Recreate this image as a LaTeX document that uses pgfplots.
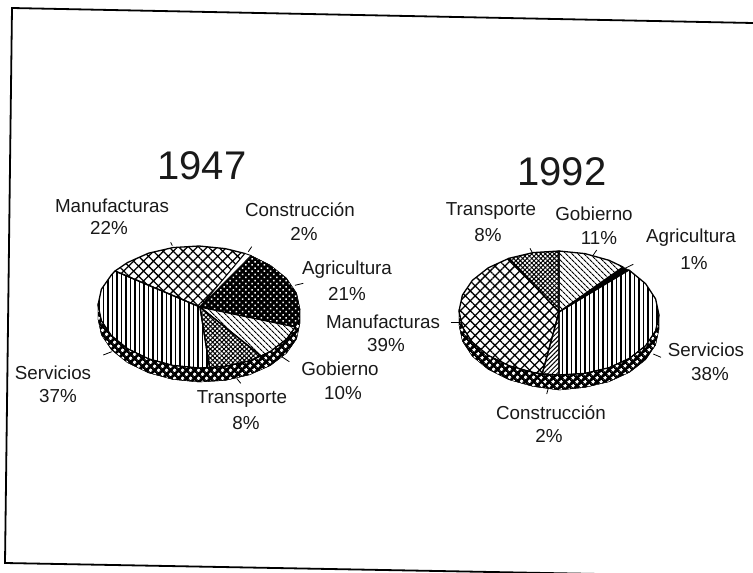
\documentclass[border=0pt]{standalone}
\usepackage{fontspec}
\setmainfont{Liberation Sans}
\usepackage{pgfplots}
\pgfplotsset{compat=1.18}
\usetikzlibrary{patterns.meta}
\tikzset{
 lab/.style={font=\fontsize{18.8}{22}\selectfont,inner sep=0pt,text=black!90},
 ttl/.style={font=\fontsize{40}{44}\selectfont,inner sep=0pt,text=black!90},
 sl/.style={draw=black,line width=1.3pt,line join=round},
 pMan/.style={pattern={Hatch[angle=45,distance=7pt,line width=1.3pt]},pattern color=black},
 pSer/.style={pattern={Lines[angle=90,distance=4.5pt,line width=1.7pt]},pattern color=black},
 pTra/.style={pattern={Hatch[angle=45,distance=3.2pt,line width=1pt]},pattern color=black},
 pGob/.style={pattern={Lines[angle=-45,distance=4pt,line width=1.2pt]},pattern color=black},
 pCon/.style={pattern={Lines[angle=45,distance=3.2pt,line width=1pt]},pattern color=black},
 pAgr/.style={pattern={Dots[angle=45,distance=4.4pt,radius=1.05pt]},pattern color=white},
 pRim/.style={pattern={Dots[angle=45,distance=5.4pt,radius=1.7pt]},pattern color=white},
 tk/.style={draw=black,line width=.8pt},
 fr/.style={draw=black,line width=1.8pt},
}
\begin{document}
\begin{tikzpicture}
\useasboundingbox (0,0) rectangle (753pt,573pt);
\begin{axis}[
  scale only axis,width=753pt,height=573pt,
  xmin=0,xmax=753,ymin=0,ymax=573,y dir=reverse,
  hide axis,no markers]
% frame
\addplot[fr] coordinates {(753,23) (12,8) (5,563) (600,574)};
% ---------- 1947 ----------
% rim
\addplot[draw=black,fill=black] coordinates {(300,309) (296.6,324.8) (286.5,339.2) (270.4,351.5) (249.5,360.8) (225.2,366.4) (199,368) (172.8,365.4) (148.5,358.8) (127.6,348.7) (111.5,335.8) (101.4,320.8) (98,305) (98,319) (101.4,334.8) (111.5,349.8) (127.6,362.7) (148.5,372.8) (172.8,379.4) (199,382) (225.2,380.4) (249.5,374.8) (270.4,365.5) (286.5,353.2) (296.6,338.8) (300,323) (300,309)};
\addplot[pRim] coordinates {(300,309) (296.6,324.8) (286.5,339.2) (270.4,351.5) (249.5,360.8) (225.2,366.4) (199,368) (172.8,365.4) (148.5,358.8) (127.6,348.7) (111.5,335.8) (101.4,320.8) (98,305) (98,319) (101.4,334.8) (111.5,349.8) (127.6,362.7) (148.5,372.8) (172.8,379.4) (199,382) (225.2,380.4) (249.5,374.8) (270.4,365.5) (286.5,353.2) (296.6,338.8) (300,323) (300,309)};
% Agricultura 21
\addplot[fill=black,draw=black] coordinates {(200,307) (251,255.5) (270.4,265.3) (286.5,278.2) (296.6,293.2) (300,309) (295.5,327) (200,307)};
\addplot[pAgr] coordinates {(200,307) (251,255.5) (270.4,265.3) (286.5,278.2) (296.6,293.2) (300,309) (295.5,327) (200,307)};
% Gobierno 10
\addplot[sl,pGob] coordinates {(200,307) (295.5,327) (286.5,339.2) (270.4,351.5) (261,356) (200,307)};
% Transporte 8
\addplot[sl,pTra] coordinates {(200,307) (261,356) (249.5,360.8) (225.2,366.4) (209.6,367.7) (200,307)};
% Servicios 37
\addplot[sl,pSer] coordinates {(200,307) (209.6,367.7) (199,368) (172.8,365.4) (148.5,358.8) (127.6,348.7) (111.5,335.8) (101.4,320.8) (98,305) (101.4,289.2) (111.5,274.8) (115,271) (200,307)};
% Manufacturas 22
\addplot[sl,pMan] coordinates {(200,307) (115,271) (127.6,262.5) (148.5,253.2) (172.8,247.6) (199,246) (225.2,248.6) (245,253.5) (200,307)};
% Construccion 2
\addplot[sl,line width=.8pt,fill=white] coordinates {(200,307) (245,253.5) (251,255.5) (200,307)};
% leader ticks
\addplot[tk] coordinates {(170.7,242.3) (172.3,245.7)};
\addplot[tk] coordinates {(248.3,251.7) (251.7,246.7)};
\addplot[tk] coordinates {(295,285.3) (303.3,283.3)};
\addplot[tk] coordinates {(281.7,356.7) (289.3,361.7)};
\addplot[tk] coordinates {(236.7,378.3) (240.7,383.3)};
\addplot[tk] coordinates {(103.3,355) (111.7,351.7)};
% ---------- 1992 ----------
\addplot[draw=black,fill=black] coordinates {(659,315) (655.6,330.9) (645.6,345.7) (629.7,358.2) (609,367.7) (584.9,373.4) (559,375) (533.1,372.4) (509,365.7) (488.3,355.4) (472.4,342.3) (462.4,327.1) (459,311) (459,325) (462.4,341.1) (472.4,356.3) (488.3,369.4) (509,379.7) (533.1,386.4) (559,390) (584.9,387.4) (609,381.7) (629.7,372.2) (645.6,359.7) (655.6,344.9) (659,329) (659,315)};
\addplot[pRim] coordinates {(659,315) (655.6,330.9) (645.6,345.7) (629.7,358.2) (609,367.7) (584.9,373.4) (559,375) (533.1,372.4) (509,365.7) (488.3,355.4) (472.4,342.3) (462.4,327.1) (459,311) (459,325) (462.4,341.1) (472.4,356.3) (488.3,369.4) (509,379.7) (533.1,386.4) (559,390) (584.9,387.4) (609,381.7) (629.7,372.2) (645.6,359.7) (655.6,344.9) (659,329) (659,315)};
% Gobierno 11
\addplot[sl,pGob] coordinates {(559,312) (559,251) (584.9,253.6) (609,260.3) (623,267) (559,312)};
% Agricultura 1
\addplot[fill=black,draw=black] coordinates {(559,312) (623,267) (629,270) (559,312)};
% Servicios 38
\addplot[sl,pSer] coordinates {(559,312) (629,270) (645.6,283.7) (655.6,298.9) (659,315) (655.6,330.9) (645.6,345.7) (629.7,358.2) (609,367.7) (584.9,373.4) (559,375) (559,312)};
% Construccion 2
\addplot[sl,pCon] coordinates {(559,312) (559,375) (542,374.5) (559,312)};
% Manufacturas 39
\addplot[sl,pMan] coordinates {(559,312) (542,374.5) (533.1,372.4) (509,365.7) (488.3,355.4) (472.4,342.3) (462.4,327.1) (459,311) (462.4,295.1) (472.4,280.3) (488.3,267.8) (509,258.3) (559,312)};
% Transporte 8
\addplot[sl,pTra] coordinates {(559,312) (509,258.3) (533.1,252.6) (559,251) (559,312)};
% leader ticks
\addplot[tk] coordinates {(530,248.3) (532.7,253.3)};
\addplot[tk] coordinates {(596.7,250) (593.3,255)};
\addplot[tk] coordinates {(625,268.3) (633.3,264.3)};
\addplot[tk] coordinates {(450.7,322.7) (460,322.7)};
\addplot[tk] coordinates {(653.3,354) (661,357.3)};
\addplot[tk] coordinates {(548.3,388.3) (546.7,394)};
% ---------- text ----------
\node[ttl] at (axis cs:202,166) {1947};
\node[lab] at (axis cs:112,206) {Manufacturas};
\node[lab] at (axis cs:109,228) {22\%};
\node[lab] at (axis cs:300,210) {Construcción};
\node[lab] at (axis cs:304,234) {2\%};
\node[lab] at (axis cs:347,270) {Agricultura};
\node[lab] at (axis cs:347,294) {21\%};
\node[lab] at (axis cs:340,369) {Gobierno};
\node[lab] at (axis cs:343,393) {10\%};
\node[lab] at (axis cs:242,399) {Transporte};
\node[lab] at (axis cs:246,423) {8\%};
\node[lab] at (axis cs:53,373) {Servicios};
\node[lab] at (axis cs:58,396) {37\%};
\node[ttl] at (axis cs:562,172) {1992};
\node[lab] at (axis cs:491,211) {Transporte};
\node[lab] at (axis cs:488,235) {8\%};
\node[lab] at (axis cs:594,214) {Gobierno};
\node[lab] at (axis cs:599,238) {11\%};
\node[lab] at (axis cs:691,238) {Agricultura};
\node[lab] at (axis cs:694,263) {1\%};
\node[lab] at (axis cs:383,322) {Manufacturas};
\node[lab] at (axis cs:386,345) {39\%};
\node[lab] at (axis cs:706,350) {Servicios};
\node[lab] at (axis cs:710,374) {38\%};
\node[lab] at (axis cs:551,413) {Construcción};
\node[lab] at (axis cs:549,436) {2\%};
\end{axis}
\end{tikzpicture}
\end{document}
